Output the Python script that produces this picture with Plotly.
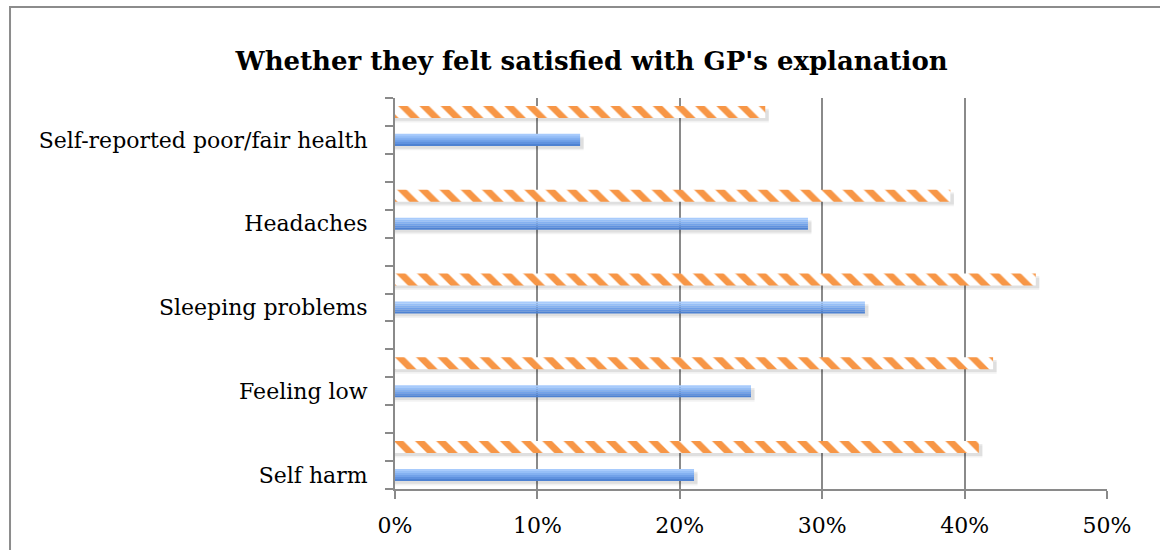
import plotly.graph_objects as go

# ---- data ----
categories = ["Self harm", "Feeling low", "Sleeping problems", "Headaches",
              "Self-reported poor/fair health"]
blue_values = [21, 25, 33, 29, 13]      # %
orange_values = [41, 42, 45, 39, 26]    # %
x_ticks = [0, 10, 20, 30, 40, 50]
x_tick_labels = ["0%", "10%", "20%", "30%", "40%", "50%"]

# ---- layout helpers (style) ----
SLOTS = 3
n = len(categories)
blue_pos = [SLOTS * i + 0.5 for i in range(n)]
orange_pos = [SLOTS * i + 1.5 for i in range(n)]
Y_MAX = SLOTS * n - 1
BAR_W = 0.43
GRID = "#8a8a8a"
FONT = "DejaVu Serif"

fig = go.Figure()

# shadows
for pos_list, vals in ((blue_pos, blue_values), (orange_pos, orange_values)):
    for a, off in ((0.05, 0.16), (0.08, 0.10)):
        fig.add_trace(go.Bar(
            orientation="h", x=[v + 0.25 for v in vals], y=[p - off for p in pos_list],
            width=BAR_W, marker=dict(color=f"rgba(0,0,0,{a})", line=dict(width=0)),
            hoverinfo="skip", showlegend=False))

# orange hatched bars
fig.add_trace(go.Bar(
    orientation="h", x=orange_values, y=orange_pos, width=BAR_W,
    marker=dict(color="white", line=dict(width=0),
                pattern=dict(shape="\\", fgcolor="#f79646", bgcolor="white",
                             size=15, solidity=0.45, fillmode="replace")),
    showlegend=False, name="orange"))

# blue gradient bars (strips)
strip_colors = ["#a8cbfc", "#96bff7", "#84b1f1", "#72a2e9", "#6092df", "#4e82d2"]
ns = len(strip_colors)
sw = BAR_W / ns
for j, c in enumerate(strip_colors):
    off = BAR_W / 2 - sw * (j + 0.5)
    fig.add_trace(go.Bar(
        orientation="h", x=blue_values, y=[p + off for p in blue_pos], width=sw * 1.02,
        marker=dict(color=c, line=dict(width=0)),
        showlegend=False, name="blue"))

fig.update_layout(
    width=1160, height=550, barmode="overlay",
    paper_bgcolor="white", plot_bgcolor="white",
    margin=dict(l=395, r=53, t=98, b=61),
    font=dict(family=FONT, size=22, color="black"),
    title=dict(text="<b>Whether they felt satisfied with GP's explanation</b>",
               x=0.51, xanchor="center", y=0.89, yanchor="middle",
               font=dict(family=FONT, size=26, color="black")),
    xaxis=dict(range=[0, 50], tickvals=x_ticks, ticktext=x_tick_labels,
               showgrid=True, gridcolor=GRID, gridwidth=1.5,
               showline=True, linecolor=GRID, linewidth=2,
               ticks="outside", ticklen=8, tickcolor=GRID, tickwidth=2,
               ticklabelstandoff=8,
               zeroline=False, fixedrange=True, automargin=False),
    yaxis=dict(range=[0, Y_MAX], tickvals=blue_pos, ticktext=categories,
               ticks="", showgrid=False, zeroline=False,
               showline=True, linecolor=GRID, linewidth=2,
               ticklabelstandoff=21, automargin=False, fixedrange=True,
               minor=dict(tickmode="array", tickvals=list(range(Y_MAX + 1)),
                          ticks="outside", ticklen=8, tickcolor=GRID, tickwidth=2,
                          showgrid=False)),
    shapes=[dict(type="rect", xref="paper", yref="paper",
                 x0=-0.5407, x1=1.2, y0=-0.3, y1=1.2327,
                 line=dict(color="#8c8c8c", width=2), fillcolor="rgba(0,0,0,0)",
                 layer="below")],
)

fig.write_html("out.html", config={"displayModeBar": False},
               post_script="document.body.style.margin='0';")
